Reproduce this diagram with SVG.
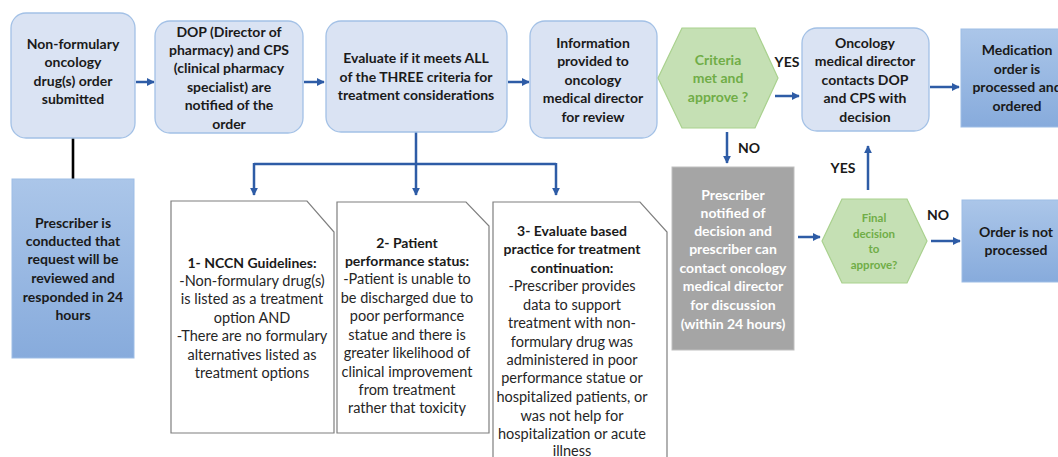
<svg xmlns="http://www.w3.org/2000/svg" width="1058" height="457" viewBox="0 0 1058 457">
  <defs>
    <linearGradient id="blueGrad" x1="0" y1="0" x2="0" y2="1">
      <stop offset="0" stop-color="#abc6e9"/>
      <stop offset="1" stop-color="#87abdc"/>
    </linearGradient>
    <marker id="arrow" viewBox="0 0 10 10" refX="9" refY="5" markerWidth="3.2" markerHeight="3.2" orient="auto" markerUnits="strokeWidth">
      <path d="M0,0 L10,5 L0,10 z" fill="#2e5ca6"/>
    </marker>
    <style>
      .step { fill: #dae3f3; stroke: #a3c1e6; stroke-width: 1.3; }
      .solid { fill: url(#blueGrad); stroke: #9dbde6; stroke-width: 1; }
      .gray { fill: #a5a5a5; stroke: #bfbfbf; stroke-width: 1; }
      .hex { fill: #c5e0b4; stroke: #a9d18e; stroke-width: 1.2; }
      .doc { fill: #ffffff; stroke: #7f7f7f; stroke-width: 1.2; }
      .t { font-family: Lato, "Liberation Sans", sans-serif; font-size: 14px; font-weight: bold; fill: #1a1a1a; text-anchor: middle; }
      .tn { font-family: Lato, "Liberation Sans", sans-serif; font-size: 14.5px; font-weight: normal; fill: #262626; text-anchor: middle; }
      .tw { fill: #ffffff; }
      .tg { fill: #70ad47; }
      .small { font-size: 11.5px; }
      .link { stroke: #2e5ca6; stroke-width: 2.5; fill: none; }
      .linkhead { marker-end: url(#arrow); }
    </style>
  </defs>

  <rect width="1058" height="457" fill="#ffffff"/>

  <!-- connectors -->
  <g id="connectors">
    <line x1="73" y1="138" x2="73" y2="179" stroke="#000000" stroke-width="2.6"/>
    <line class="link linkhead" x1="136" y1="82" x2="154" y2="82"/>
    <line class="link linkhead" x1="304" y1="82" x2="324" y2="82"/>
    <line class="link linkhead" x1="508" y1="82" x2="529" y2="82"/>
    <path class="link" d="M416,132 V164 M254,164 H556"/>
    <line class="link linkhead" x1="254" y1="163" x2="254" y2="195"/>
    <line class="link linkhead" x1="416" y1="164" x2="416" y2="195"/>
    <line class="link linkhead" x1="556" y1="163" x2="556" y2="195"/>
    <line class="link linkhead" x1="775" y1="96" x2="799" y2="96"/>
    <line class="link linkhead" x1="930" y1="87" x2="959" y2="87"/>
    <line class="link linkhead" x1="727" y1="132" x2="727" y2="163"/>
    <line class="link linkhead" x1="798" y1="237" x2="820" y2="237"/>
    <line class="link linkhead" x1="868" y1="190" x2="868" y2="146"/>
    <line class="link linkhead" x1="931" y1="241" x2="960" y2="241"/>
    <text class="t" x="787" y="67">YES</text>
    <text class="t" x="749" y="153">NO</text>
    <text class="t" x="843" y="173">YES</text>
    <text class="t" x="938" y="220">NO</text>
  </g>

  <g id="order-submitted">
    <rect class="step" x="11" y="13" width="124" height="125" rx="15"/>
    <text class="t" x="73" y="49">Non-formulary</text>
    <text class="t" x="73" y="67">oncology</text>
    <text class="t" x="73" y="86">drug(s) order</text>
    <text class="t" x="73" y="104">submitted</text>
  </g>

  <g id="pharmacy-notified">
    <rect class="step" x="155" y="21" width="148" height="112" rx="15"/>
    <text class="t" x="229" y="37">DOP (Director of</text>
    <text class="t" x="229" y="55">pharmacy) and CPS</text>
    <text class="t" x="229" y="73">(clinical pharmacy</text>
    <text class="t" x="229" y="92">specialist) are</text>
    <text class="t" x="229" y="110">notified of the</text>
    <text class="t" x="229" y="129">order</text>
  </g>

  <g id="evaluate-criteria">
    <rect class="step" x="326" y="21" width="181" height="111" rx="15"/>
    <text class="t" x="416" y="63">Evaluate if it meets ALL</text>
    <text class="t" x="416" y="82">of the THREE criteria for</text>
    <text class="t" x="416" y="100">treatment considerations</text>
  </g>

  <g id="info-director">
    <rect class="step" x="530" y="21" width="127" height="117" rx="15"/>
    <text class="t" x="593" y="48">Information</text>
    <text class="t" x="593" y="66">provided to</text>
    <text class="t" x="593" y="85">oncology</text>
    <text class="t" x="593" y="103">medical director</text>
    <text class="t" x="593" y="122">for review</text>
  </g>

  <g id="criteria-met">
    <polygon class="hex" points="658,78 682,28 755,28 778,78 755,128 682,128"/>
    <text class="t tg" x="718" y="65">Criteria</text>
    <text class="t tg" x="718" y="83">met and</text>
    <text class="t tg" x="718" y="102">approve ?</text>
  </g>

  <g id="director-contacts">
    <rect class="step" x="802" y="28" width="127" height="103" rx="15"/>
    <text class="t" x="865" y="48">Oncology</text>
    <text class="t" x="865" y="66">medical director</text>
    <text class="t" x="865" y="85">contacts DOP</text>
    <text class="t" x="865" y="103">and CPS with</text>
    <text class="t" x="865" y="122">decision</text>
  </g>

  <g id="order-processed">
    <rect class="solid" x="961" y="29" width="110" height="98"/>
    <text class="t" x="1017" y="55">Medication</text>
    <text class="t" x="1017" y="74">order is</text>
    <text class="t" x="1017" y="92">processed and</text>
    <text class="t" x="1017" y="111">ordered</text>
  </g>

  <g id="prescriber-informed">
    <rect class="solid" x="12" y="179" width="122" height="179"/>
    <text class="t" x="73" y="228">Prescriber is</text>
    <text class="t" x="73" y="246">conducted that</text>
    <text class="t" x="73" y="264">request will be</text>
    <text class="t" x="73" y="283">reviewed and</text>
    <text class="t" x="73" y="302">responded in 24</text>
    <text class="t" x="73" y="320">hours</text>
  </g>

  <g id="criterion-nccn">
    <path class="doc" d="M171,201 H307 L334,232 V433 H171 Z"/>
    <text class="t" x="252" y="268">1- NCCN Guidelines:</text>
    <text class="tn" x="252" y="286">-Non-formulary drug(s)</text>
    <text class="tn" x="252" y="304">is listed as a treatment</text>
    <text class="tn" x="252" y="323">option AND</text>
    <text class="tn" x="252" y="341">-There are no formulary</text>
    <text class="tn" x="252" y="360">alternatives listed as</text>
    <text class="tn" x="252" y="378">treatment options</text>
  </g>

  <g id="criterion-performance">
    <path class="doc" d="M337,202 H466 L489,226 V433 H337 Z"/>
    <text class="t" x="407" y="248">2- Patient</text>
    <text class="t" x="407" y="266">performance status:</text>
    <text class="tn" x="407" y="284">-Patient is unable to</text>
    <text class="tn" x="407" y="303">be discharged due to</text>
    <text class="tn" x="407" y="321">poor performance</text>
    <text class="tn" x="407" y="340">statue and there is</text>
    <text class="tn" x="407" y="358">greater likelihood of</text>
    <text class="tn" x="407" y="377">clinical improvement</text>
    <text class="tn" x="407" y="395">from treatment</text>
    <text class="tn" x="407" y="413">rather that toxicity</text>
  </g>

  <g id="criterion-practice">
    <path class="doc" d="M493,202 H640 L667,232 V470 H493 Z"/>
    <text class="t" x="572" y="236">3- Evaluate based</text>
    <text class="t" x="572" y="254">practice for treatment</text>
    <text class="t" x="572" y="273">continuation:</text>
    <text class="tn" x="572" y="291">-Prescriber provides</text>
    <text class="tn" x="572" y="310">data to support</text>
    <text class="tn" x="572" y="328">treatment with non-</text>
    <text class="tn" x="572" y="347">formulary drug was</text>
    <text class="tn" x="572" y="365">administered in poor</text>
    <text class="tn" x="572" y="383">performance statue or</text>
    <text class="tn" x="572" y="402">hospitalized patients, or</text>
    <text class="tn" x="572" y="421">was not help for</text>
    <text class="tn" x="572" y="439">hospitalization or acute</text>
    <text class="tn" x="572" y="456">illness</text>
  </g>

  <g id="prescriber-notified">
    <rect class="gray" x="672" y="167" width="122" height="183"/>
    <text class="t tw" x="733" y="200">Prescriber</text>
    <text class="t tw" x="733" y="218">notified of</text>
    <text class="t tw" x="733" y="236">decision and</text>
    <text class="t tw" x="733" y="254">prescriber can</text>
    <text class="t tw" x="733" y="273">contact oncology</text>
    <text class="t tw" x="733" y="291">medical director</text>
    <text class="t tw" x="733" y="310">for discussion</text>
    <text class="t tw" x="733" y="329">(within 24 hours)</text>
  </g>

  <g id="final-decision">
    <polygon class="hex" points="822,241 842,199 907,199 927,241 907,283 842,283"/>
    <text class="t tg small" x="874" y="222">Final</text>
    <text class="t tg small" x="874" y="238">decision</text>
    <text class="t tg small" x="874" y="253">to</text>
    <text class="t tg small" x="874" y="269">approve?</text>
  </g>

  <g id="order-not-processed">
    <rect class="solid" x="962" y="200" width="110" height="82"/>
    <text class="t" x="1016" y="237">Order is not</text>
    <text class="t" x="1016" y="255">processed</text>
  </g>
</svg>
